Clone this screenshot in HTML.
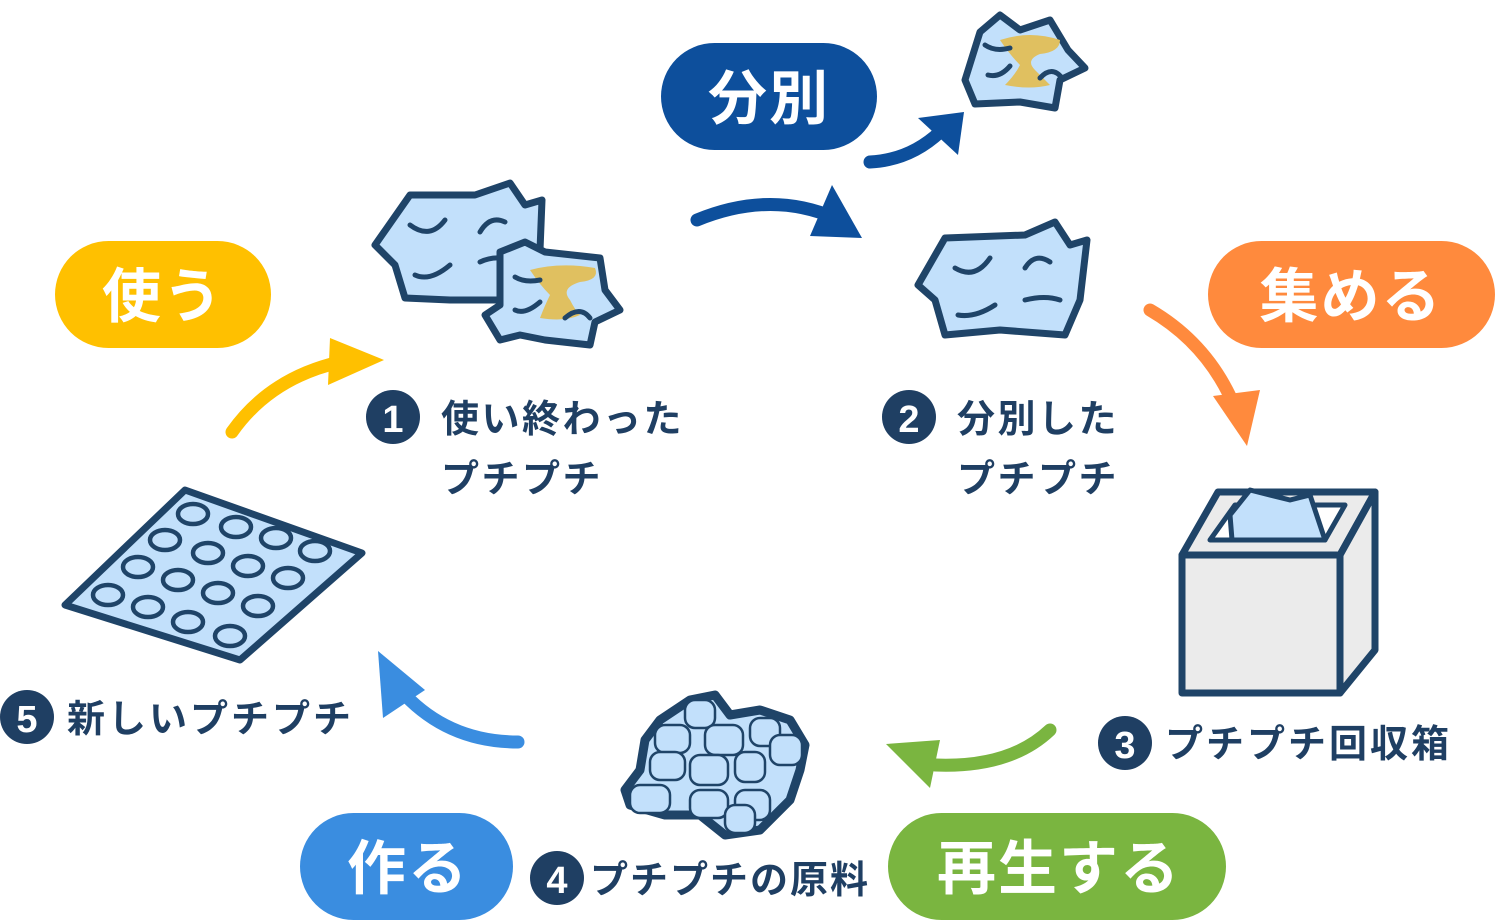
<!DOCTYPE html>
<html><head><meta charset="utf-8"><style>
html,body{margin:0;padding:0;background:#fff;}
svg{display:block;}
text{font-family:"Liberation Sans","Noto Sans CJK JP",sans-serif;font-weight:bold;}
</style></head><body>
<svg width="1496" height="921" viewBox="0 0 1496 921" xmlns="http://www.w3.org/2000/svg">
<!-- pills -->
<rect x="661" y="43" width="216" height="107" rx="53.5" fill="#0d4f9c"/>
<text x="769" y="119" font-size="59" fill="#fff" text-anchor="middle" letter-spacing="2">分別</text>
<rect x="55" y="241" width="216" height="107" rx="53.5" fill="#ffc000"/>
<text x="163" y="317" font-size="59" fill="#fff" text-anchor="middle" letter-spacing="2">使う</text>
<rect x="1208" y="241" width="287" height="107" rx="53.5" fill="#ff8a3d"/>
<text x="1351" y="317" font-size="59" fill="#fff" text-anchor="middle" letter-spacing="2">集める</text>
<rect x="300" y="813" width="213" height="107" rx="53.5" fill="#3a8de0"/>
<text x="408" y="889" font-size="59" fill="#fff" text-anchor="middle" letter-spacing="2">作る</text>
<rect x="888" y="813" width="338" height="107" rx="53.5" fill="#7ab540"/>
<text x="1059" y="889" font-size="59" fill="#fff" text-anchor="middle" letter-spacing="2">再生する</text>

<!-- arrows -->
<g fill="none" stroke-width="13" stroke-linecap="round">
<path d="M697,220 Q770,190 835,218" stroke="#0d4f9c"/>
<path d="M870,162 Q910,160 940,132" stroke="#0d4f9c"/>
<path d="M1150,310 Q1210,345 1236,410" stroke="#ff8a3d"/>
<path d="M1050,730 Q1010,768 935,765" stroke="#7ab540"/>
<path d="M518,742 Q450,742 405,695" stroke="#3a8de0"/>
<path d="M232,432 Q270,378 340,362" stroke="#ffc000"/>
</g>
<polygon points="862,238 810,236 832,185" fill="#0d4f9c"/>
<polygon points="964,112 958,155 918,118" fill="#0d4f9c"/>
<polygon points="1247,446 1213,396 1260,390" fill="#ff8a3d"/>
<polygon points="886,744 940,740 930,788" fill="#7ab540"/>
<polygon points="378,651 425,690 383,718" fill="#3a8de0"/>
<polygon points="384,360 330,338 328,385" fill="#ffc000"/>

<!-- labels -->
<g fill="#1f3f63">
<circle cx="393" cy="417" r="27"/><text x="393" y="432" font-size="38" fill="#fff" text-anchor="middle">1</text>
<text x="441" y="432" font-size="38" letter-spacing="2.5">使い終わった</text>
<text x="441" y="492" font-size="38" letter-spacing="2.5">プチプチ</text>
<circle cx="909" cy="417" r="27"/><text x="909" y="432" font-size="38" fill="#fff" text-anchor="middle">2</text>
<text x="957" y="432" font-size="38" letter-spacing="2.5">分別した</text>
<text x="957" y="492" font-size="38" letter-spacing="2.5">プチプチ</text>
<circle cx="1125" cy="743" r="27"/><text x="1125" y="758" font-size="38" fill="#fff" text-anchor="middle">3</text>
<text x="1165" y="757" font-size="38" letter-spacing="3">プチプチ回収箱</text>
<circle cx="557" cy="878" r="27"/><text x="557" y="893" font-size="38" fill="#fff" text-anchor="middle">4</text>
<text x="590" y="893" font-size="38" letter-spacing="2">プチプチの原料</text>
<circle cx="27" cy="717" r="27"/><text x="27" y="732" font-size="38" fill="#fff" text-anchor="middle">5</text>
<text x="67" y="732" font-size="38" letter-spacing="3">新しいプチプチ</text>
</g>

<g stroke="#1f4468" stroke-width="7" stroke-linejoin="round" stroke-linecap="round">
<polygon points="410,195 475,195 510,183 525,205 542,200 540,250 520,300 450,300 405,298 395,265 375,245" fill="#c2e0fb"/>
<path d="M410,225 Q430,240 445,220 M480,232 Q490,215 505,222 M415,275 Q430,282 450,265 M480,262 Q495,255 510,260" fill="none" stroke-width="5"/>
<polygon points="500,252 525,242 545,252 600,258 605,290 620,310 595,322 590,345 545,340 520,335 500,340 485,315 500,305" fill="#c2e0fb"/>
<path d="M530,270 Q560,262 595,268 Q600,280 580,282 Q560,288 570,300 Q575,310 580,315 Q565,322 540,318 Q545,305 550,295 Q540,285 530,270Z" fill="#e0c060" stroke="none"/>
<path d="M515,277 Q525,283 540,280 M515,310 Q525,315 540,302 M565,318 Q580,305 590,318" fill="none" stroke-width="5"/>
<polygon points="945,238 1025,235 1055,222 1070,245 1087,240 1080,300 1065,335 1000,330 945,335 935,300 918,285" fill="#c2e0fb"/>
<path d="M955,268 Q975,280 990,258 M1025,268 Q1035,252 1050,262 M958,315 Q975,318 995,305 M1025,300 Q1045,295 1060,300" fill="none" stroke-width="5"/>
<polygon points="980,32 1000,15 1020,30 1050,20 1068,50 1085,68 1060,80 1055,108 1020,102 975,104 965,80" fill="#c2e0fb"/>
<path d="M1000,40 Q1030,30 1060,40 Q1060,52 1040,54 Q1025,60 1035,70 Q1045,80 1050,85 Q1030,90 1005,85 Q1015,75 1020,65 Q1010,55 1000,40Z" fill="#e0c060" stroke="none"/>
<path d="M985,45 Q995,52 1010,48 M988,75 Q1000,78 1010,66 M1040,78 Q1052,65 1062,78" fill="none" stroke-width="5"/>
<!-- box -->
<polygon points="1218,492 1375,492 1340,555 1182,555" fill="#ebebeb"/>
<polygon points="1340,555 1375,492 1375,650 1340,693" fill="#ebebeb"/>
<rect x="1182" y="555" width="158" height="138" fill="#ebebeb"/>
<polygon points="1235,505 1345,505 1325,540 1210,540" fill="#fff" stroke-width="5"/>
<polygon points="1230,515 1250,490 1290,500 1310,495 1325,540 1232,540" fill="#c2e0fb" stroke-width="5"/>
<!-- bubble sheet -->
<polygon points="185,490 362,553 240,660 65,605" fill="#c2e0fb"/>
</g>
<g fill="#c2e0fb" stroke="#1f4468" stroke-width="4.5">
<ellipse cx="193" cy="514" rx="15" ry="10"/><ellipse cx="236" cy="527" rx="15" ry="10"/><ellipse cx="276" cy="538" rx="15" ry="10"/><ellipse cx="315" cy="551" rx="15" ry="10"/>
<ellipse cx="165" cy="540" rx="15" ry="10"/><ellipse cx="208" cy="553" rx="15" ry="10"/><ellipse cx="248" cy="566" rx="15" ry="10"/><ellipse cx="288" cy="578" rx="15" ry="10"/>
<ellipse cx="138" cy="567" rx="15" ry="10"/><ellipse cx="178" cy="580" rx="15" ry="10"/><ellipse cx="218" cy="593" rx="15" ry="10"/><ellipse cx="258" cy="606" rx="15" ry="10"/>
<ellipse cx="108" cy="595" rx="15" ry="10"/><ellipse cx="148" cy="607" rx="15" ry="10"/><ellipse cx="188" cy="622" rx="15" ry="10"/><ellipse cx="230" cy="636" rx="15" ry="10"/>
</g>
<!-- pellets -->
<path d="M660,720 L690,700 L715,695 L730,715 L760,710 L790,720 L805,745 L800,770 L790,800 L760,830 L725,835 L700,815 L665,815 L630,805 L625,790 L640,770 L645,740Z" fill="#c2e0fb" stroke="#1f4468" stroke-width="9" stroke-linejoin="round"/>
<g fill="#c2e0fb" stroke="#1f4468" stroke-width="2.5">
<rect x="685" y="700" width="30" height="28" rx="10"/><rect x="655" y="725" width="35" height="28" rx="10"/>
<rect x="705" y="725" width="38" height="30" rx="10"/><rect x="750" y="718" width="30" height="28" rx="10"/>
<rect x="770" y="735" width="32" height="30" rx="10"/><rect x="650" y="752" width="35" height="28" rx="10"/>
<rect x="690" y="755" width="38" height="30" rx="10"/><rect x="735" y="752" width="30" height="30" rx="10"/>
<rect x="630" y="785" width="40" height="28" rx="10"/><rect x="690" y="790" width="38" height="28" rx="10"/>
<rect x="735" y="790" width="35" height="30" rx="10"/><rect x="725" y="805" width="30" height="28" rx="10"/>
</g>
</svg>
</body></html>
